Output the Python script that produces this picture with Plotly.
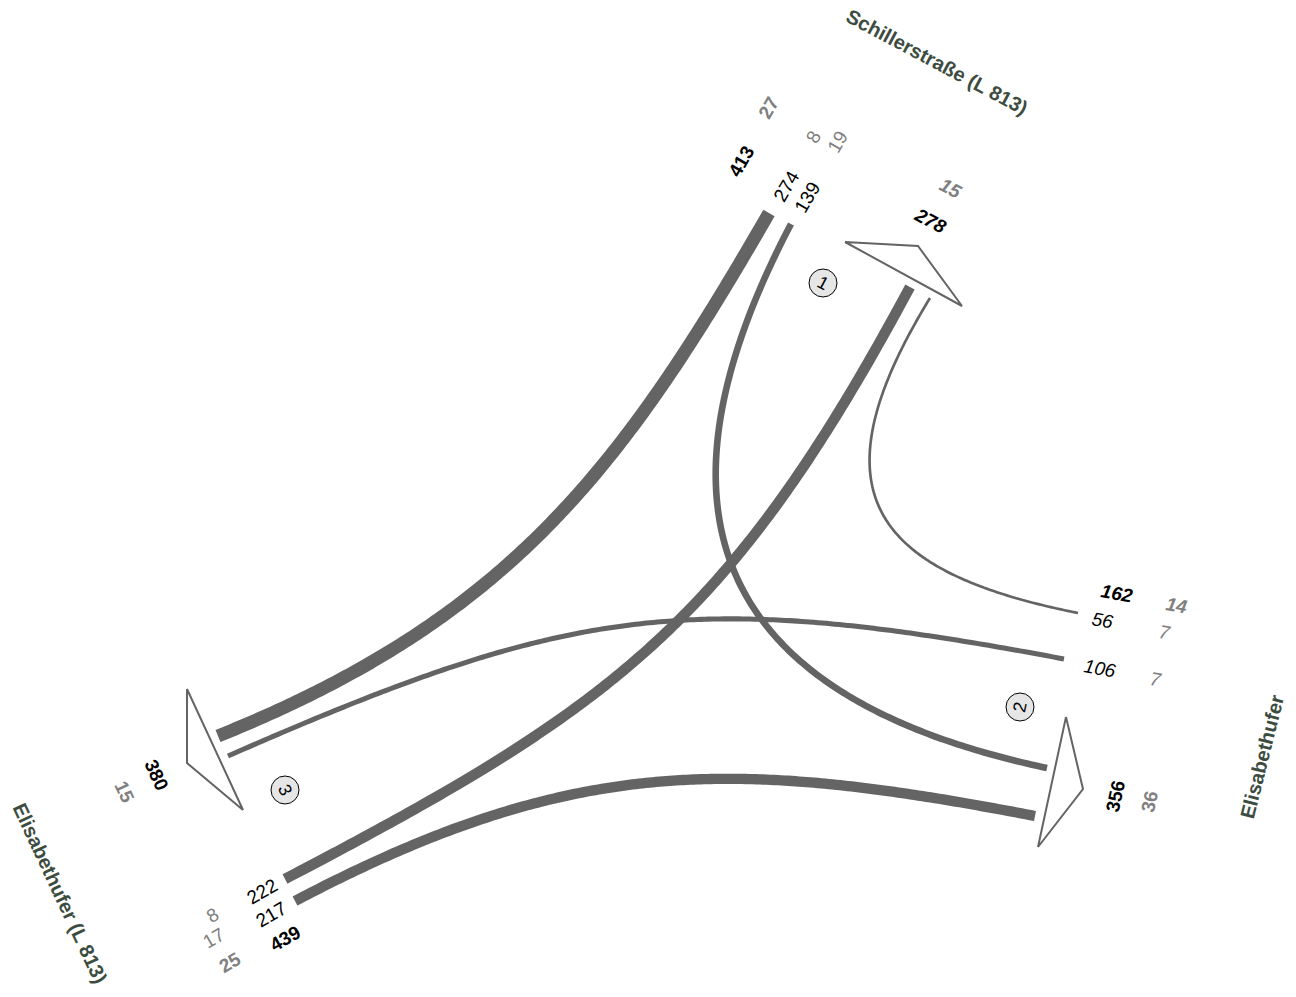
import numpy as np
import plotly.graph_objects as go

# Knotenpunkt Schillerstraße / Elisabethufer - Kfz und davon Schwerverkehr
arms = ["Schillerstraße (L 813)", "Elisabethufer", "Elisabethufer (L 813)"]
arm_node = ["1", "2", "3"]
arm_in_total = [413, 162, 439]
arm_in_hgv = [27, 14, 25]
arm_out_total = [278, 356, 380]
arm_out_hgv = [15, 36, 15]

# Ströme (Zufahrt -> Ausfahrt, Index in arms)
flow_from = [0, 0, 1, 1, 2, 2]
flow_to = [2, 1, 0, 2, 0, 1]
flow_cars = [274, 139, 56, 106, 222, 217]
flow_hgv = [8, 19, 7, 7, 8, 17]

# ---- Zeichengeometrie (Pixel, y nach unten) ----
W, H = 1296, 997
veh_per_px = 21
line_col = "#646464"
grey = "#808080"
street_col = "#3d4c41"
font = "Liberation Sans, Arial, sans-serif"

# Stützpunkte der Stromlinien; die ersten/letzten zwei geben die Richtung an den Enden
flow_paths = [
    [(769, 213), (735, 272), (705, 333), (673, 380), (600, 463), (513, 560), (400, 643), (300, 703), (218, 736)],
    [(791, 224), (760, 283), (735, 330), (722, 365), (713, 420), (713, 470), (722, 515), (735, 563),
     (763, 617), (800, 657), (867, 710), (933, 743), (1000, 758), (1047, 768)],
    [(1078, 613), (973, 592), (923, 563), (890, 520), (873, 460), (878, 400), (900, 347), (930, 298)],
    [(1064, 659), (900, 628), (760, 619), (673, 621), (600, 632), (500, 650), (400, 680), (310, 720), (228, 756)],
    [(285, 879), (373, 833), (467, 777), (540, 733), (580, 707), (677, 622), (733, 562), (800, 473), (860, 380), (910, 287)],
    [(295, 901), (373, 860), (467, 820), (600, 792), (750, 778), (900, 790), (1035, 816)],
]

arrow_tri = [
    [(845, 242), (918, 246), (962, 306)],
    [(1066, 717), (1083, 789), (1038, 847)],
    [(187, 689), (187, 763), (243, 810)],
]
node_pos = [(823, 283), (1020, 707), (285, 790)]
node_angle = [28, -78, 65]

arm_name_pos = [(937, 62), (1262, 757), (60, 893)]
arm_name_angle = [28, -76, 65]
in_angle = [-60, 10, -30]
out_angle = [28, -78, 65]
in_italic = [False, True, False]
out_italic = [True, False, False]
in_total_pos = [(741, 161), (1117, 593), (285, 938)]
in_hgv_pos = [(768, 108), (1177, 605), (230, 962)]
out_total_pos = [(930, 220), (1115, 796), (157, 775)]
out_hgv_pos = [(951, 188), (1149, 802), (125, 792)]
flow_label_pos = [(786, 186), (807, 197), (1103, 620), (1100, 668), (262, 891), (271, 914)]
flow_hgv_pos = [(813, 137), (837, 142), (1165, 632), (1156, 679), (212, 915), (213, 938)]


def bez(ctrl, t):
    t = t[:, None]
    return ((1 - t) ** 3 * ctrl[0] + 3 * (1 - t) ** 2 * t * ctrl[1]
            + 3 * (1 - t) * t ** 2 * ctrl[2] + t ** 3 * ctrl[3])


def fit_curve(pts, n=200):
    # kubische Bezierkurve, Enden und Endrichtungen fest, Hebel per kleinste Quadrate
    p = np.array(pts, float)
    a, b = p[0], p[-1]
    ua = (p[1] - p[0]) / np.hypot(*(p[1] - p[0]))
    ub = (p[-1] - p[-2]) / np.hypot(*(p[-1] - p[-2]))
    d = np.r_[0, np.cumsum(np.hypot(*np.diff(p, axis=0).T))]
    t = d / d[-1]
    ts = np.linspace(0, 1, 2000)
    for _ in range(10):
        b0, b1, b2, b3 = (1 - t) ** 3, 3 * (1 - t) ** 2 * t, 3 * (1 - t) * t ** 2, t ** 3
        rhs = p - np.outer(b0 + b1, a) - np.outer(b2 + b3, b)
        A = np.vstack([np.c_[b1 * ua[0], -b2 * ub[0]], np.c_[b1 * ua[1], -b2 * ub[1]]])
        (la, lb), *_ = np.linalg.lstsq(A, np.r_[rhs[:, 0], rhs[:, 1]], rcond=None)
        ctrl = np.array([a, a + la * ua, b - lb * ub, b])
        c = bez(ctrl, ts)
        t = ts[[np.argmin(np.hypot(*(c - q).T)) for q in p]]
        t[0], t[-1] = 0, 1
    return bez(ctrl, np.linspace(0, 1, n))


fig = go.Figure()

for tri in arrow_tri:
    xs = [q[0] for q in tri] + [tri[0][0]]
    ys = [q[1] for q in tri] + [tri[0][1]]
    fig.add_trace(go.Scatter(x=xs, y=ys, mode="lines", fill="toself", fillcolor="white",
                             line=dict(color=line_col, width=2), hoverinfo="skip"))

for i, path in enumerate(flow_paths):
    c = fit_curve(path)
    fig.add_trace(go.Scatter(x=c[:, 0], y=c[:, 1], mode="lines",
                             line=dict(color=line_col, width=flow_cars[i] / veh_per_px, simplify=False),
                             hoverinfo="skip"))

fig.add_trace(go.Scatter(x=[p[0] for p in node_pos], y=[p[1] for p in node_pos], mode="markers",
                         marker=dict(size=28, color="#e6e6e6", line=dict(color="black", width=1)),
                         hoverinfo="skip"))


def label(txt, pos, angle, color="black", bold=False, italic=False, size=19):
    fig.add_annotation(x=pos[0], y=pos[1], text=str(txt), showarrow=False, textangle=angle,
                       xanchor="center", yanchor="middle",
                       font=dict(family=font, size=size, color=color,
                                 weight="bold" if bold else "normal",
                                 style="italic" if italic else "normal"))


for a in range(len(arms)):
    label(arms[a], arm_name_pos[a], arm_name_angle[a], street_col, bold=True, size=20)
    label(arm_in_total[a], in_total_pos[a], in_angle[a], bold=True, italic=in_italic[a])
    label(arm_in_hgv[a], in_hgv_pos[a], in_angle[a], grey, bold=True, italic=in_italic[a])
    label(arm_out_total[a], out_total_pos[a], out_angle[a], bold=True, italic=out_italic[a])
    label(arm_out_hgv[a], out_hgv_pos[a], out_angle[a], grey, bold=True, italic=out_italic[a])
    label(arm_node[a], node_pos[a], node_angle[a], size=18)

for i in range(len(flow_cars)):
    a = flow_from[i]
    label(flow_cars[i], flow_label_pos[i], in_angle[a], italic=in_italic[a])
    label(flow_hgv[i], flow_hgv_pos[i], in_angle[a], grey, italic=in_italic[a])

fig.update_layout(
    width=W, height=H, margin=dict(l=0, r=0, t=0, b=0),
    paper_bgcolor="white", plot_bgcolor="white", showlegend=False,
    xaxis=dict(range=[0, W], visible=False, fixedrange=True),
    yaxis=dict(range=[H, 0], visible=False, fixedrange=True),
)

fig.write_html("out.html", config={"displayModeBar": False},
               post_script="document.body.style.margin='0';")
